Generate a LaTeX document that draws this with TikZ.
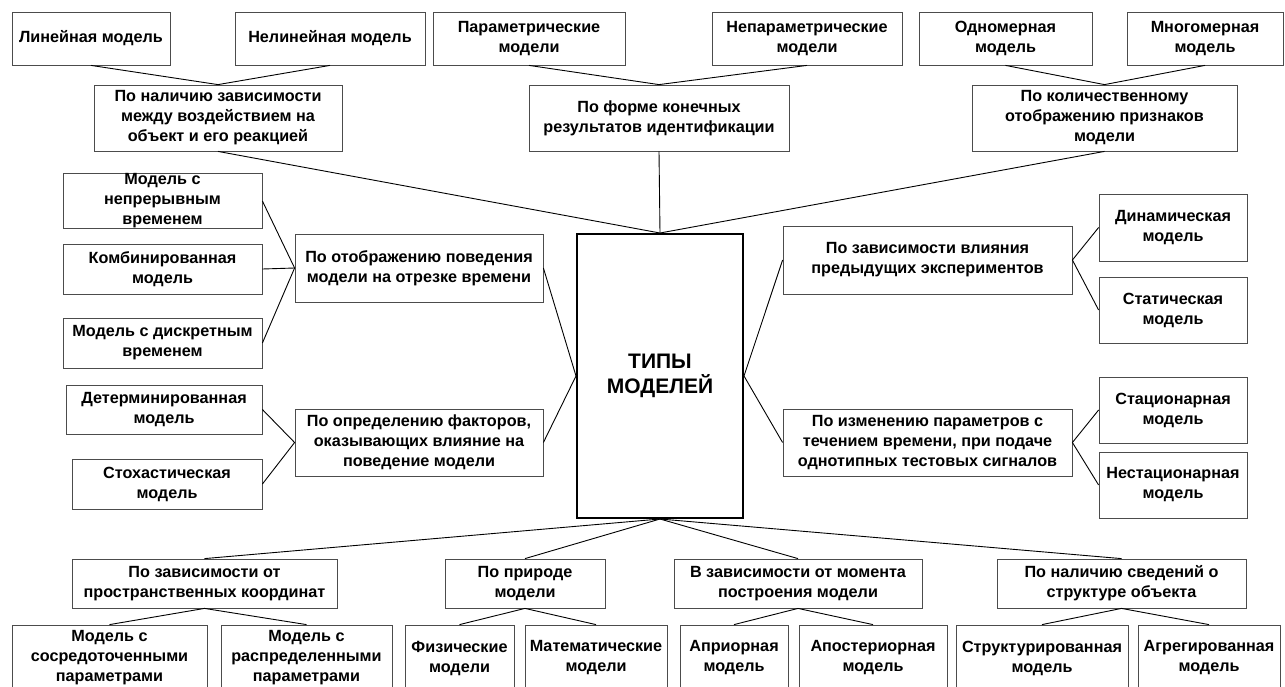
\documentclass[tikz,border=0pt]{standalone}
\usepackage{fontspec}
\setmainfont{Liberation Sans}
\begin{document}
\begin{tikzpicture}[x=1pt,y=-1pt]
\tikzset{
 box/.style={draw=black!70, line width=0.8pt, inner sep=0pt, align=center, text=black,
   font=\bfseries\fontsize{16.2}{20}\selectfont},
 centre/.style={draw=black, line width=2pt, inner sep=0pt, align=center, text=black,
   font=\bfseries\fontsize{21}{25.5}\selectfont},
 link/.style={draw=black, line width=0.9pt},
}
\newcommand\bx[7][box]{\node[#1,minimum width={#4-#2},minimum height={#5-#3}] (#6) at ({(#2+#4)/2},{(#3+#5)/2}) {#7};}
\useasboundingbox (0,0) rectangle (1285,686);
\clip (0,0) rectangle (1285,686);
\fill[white] (0,0) rectangle (1285,686);
% top leaves
\bx{12}{12}{170}{65}{lin}{Линейная модель}
\bx{235}{12}{425}{65}{nonlin}{Нелинейная модель}
\bx{433}{12}{625}{65}{param}{Параметрические\\модели}
\bx{712}{12}{902}{65}{nonparam}{Непараметрические\\модели}
\bx{919}{12}{1092}{65}{onedim}{Одномерная\\модель}
\bx{1127}{12}{1283}{65}{multidim}{Многомерная\\модель}
% top categories
\bx{94}{85}{342}{151}{p1}{По наличию зависимости\\между воздействием на\\объект и его реакцией}
\bx{529}{85}{789}{151}{p2}{По форме конечных\\результатов идентификации}
\bx{972}{85}{1237}{151}{p3}{По количественному\\отображению признаков\\модели}
% centre
\bx[centre]{577}{234}{743}{518}{c}{ТИПЫ\\МОДЕЛЕЙ}
% left
\bx{63}{174}{262}{228}{l1}{Модель с\\непрерывным\\временем}
\bx{63}{244}{262}{294}{l2}{Комбинированная\\модель}
\bx{63}{318}{262}{368}{l3}{Модель с дискретным\\временем}
\bx{295}{234}{543}{302}{pl1}{По отображению поведения\\модели на отрезке времени}
\bx{66}{385}{262}{434}{l4}{Детерминированная\\модель}
\bx{72}{459}{262}{509}{l5}{Стохастическая\\модель}
\bx{295}{409}{543}{476}{pl2}{По определению факторов,\\оказывающих влияние на\\поведение модели}
% right
\bx{783}{226}{1072}{294}{pr1}{По зависимости влияния\\предыдущих экспериментов}
\bx{1099}{194}{1247}{261}{r1}{Динамическая\\модель}
\bx{1099}{277}{1247}{343}{r2}{Статическая\\модель}
\bx{783}{409}{1072}{476}{pr2}{По изменению параметров с\\течением времени, при подаче\\однотипных тестовых сигналов}
\bx{1099}{377}{1247}{443}{r3}{Стационарная\\модель}
\bx{1099}{452}{1247}{518}{r4}{Нестационарная\\модель}
% bottom categories
\bx{72}{559}{337}{608}{b1}{По зависимости от\\пространственных координат}
\bx{445}{559}{605}{608}{b2}{По природе\\модели}
\bx{674}{559}{922}{608}{b3}{В зависимости от момента\\построения модели}
\bx{997}{559}{1246}{608}{b4}{По наличию сведений о\\структуре объекта}
% bottom leaves
\bx{12}{625}{207}{691}{bl1}{Модель с\\сосредоточенными\\параметрами}
\bx{221}{625}{392}{691}{bl2}{Модель с\\распределенными\\параметрами}
\bx{405}{625}{514}{691}{bl3}{Физические\\модели}
\bx{525}{625}{667}{691}{bl4}{Математические\\модели}
\bx{680}{625}{788}{691}{bl5}{Априорная\\модель}
\bx{799}{625}{947}{691}{bl6}{Апостериорная\\модель}
\bx{956}{625}{1128}{691}{bl7}{Структурированная\\модель}
\bx{1138}{625}{1280}{691}{bl8}{Агрегированная\\модель}
% connectors
\draw[link] (lin.south) -- (p1.north) -- (nonlin.south);
\draw[link] (param.south) -- (p2.north) -- (nonparam.south);
\draw[link] (onedim.south) -- (p3.north) -- (multidim.south);
\draw[link] (p1.south) -- (c.north) -- (p3.south);
\draw[link] (p2.south) -- (c.north);
\draw[link] (pl1.east) -- (c.west) -- (pl2.east);
\draw[link] (pr1.west) -- (c.east) -- (pr2.west);
\draw[link] (l1.east) -- (pl1.west) -- (l3.east);
\draw[link] (l2.east) -- (pl1.west);
\draw[link] (l4.east) -- (pl2.west) -- (l5.east);
\draw[link] (r1.west) -- (pr1.east) -- (r2.west);
\draw[link] (r3.west) -- (pr2.east) -- (r4.west);
\draw[link] (b1.north) -- (c.south) -- (b4.north);
\draw[link] (b2.north) -- (c.south) -- (b3.north);
\draw[link] (bl1.north) -- (b1.south) -- (bl2.north);
\draw[link] (bl3.north) -- (b2.south) -- (bl4.north);
\draw[link] (bl5.north) -- (b3.south) -- (bl6.north);
\draw[link] (bl7.north) -- (b4.south) -- (bl8.north);
\end{tikzpicture}
\end{document}
